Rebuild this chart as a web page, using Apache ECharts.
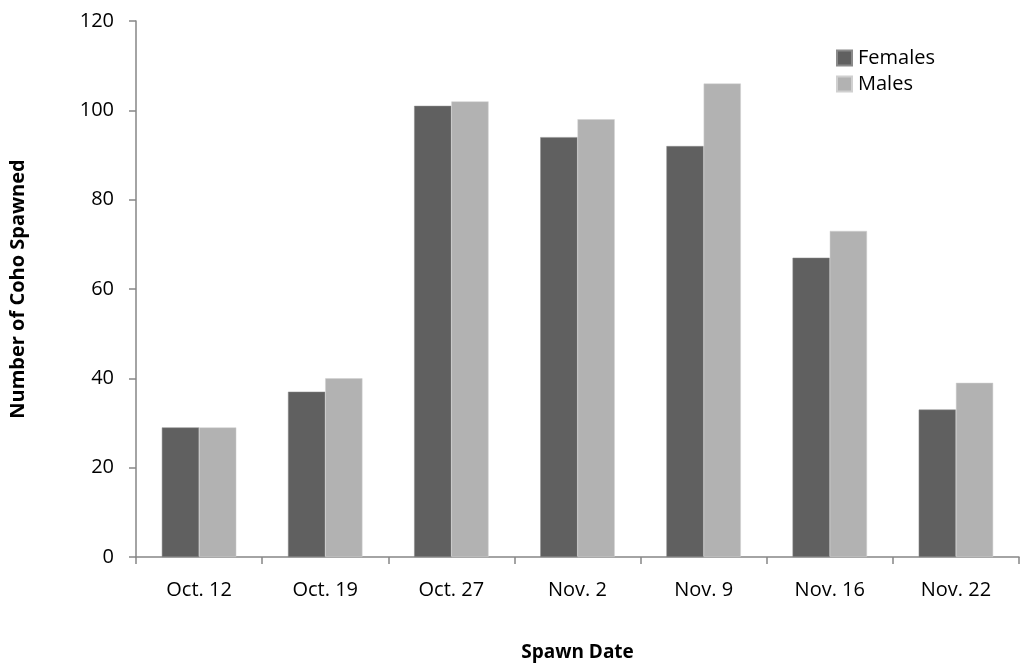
<!DOCTYPE html>
<html>
<head>
<meta charset="utf-8">
<script src="https://cdn.jsdelivr.net/npm/echarts@6/dist/echarts.min.js"></script>
<style>
  html, body { margin: 0; padding: 0; background: #ffffff; }
  #chart { width: 1035px; height: 667px; }
</style>
</head>
<body>
<div id="chart"></div>
<script>
// Coho spawned per spawn date, split by sex
const spawnDates = ['Oct. 12', 'Oct. 19', 'Oct. 27', 'Nov. 2', 'Nov. 9', 'Nov. 16', 'Nov. 22'];
const females = [29, 37, 101, 94, 92, 67, 33];
const males = [29, 40, 102, 98, 106, 73, 39];

const FONT = 'Open Sans';
const chart = echarts.init(document.getElementById('chart'));

chart.setOption({
  animation: false,
  backgroundColor: '#ffffff',
  textStyle: { fontFamily: FONT },
  grid: { left: 135, right: 16, top: 21, bottom: 108, containLabel: false },
  legend: {
    orient: 'vertical',
    left: 831,
    top: 43,
    itemWidth: 15,
    itemHeight: 15,
    itemGap: 6,
    icon: 'rect',
    textStyle: { fontFamily: FONT, fontSize: 20, color: '#000000', padding: [0, 0, 0, 1] },
    data: ['Females', 'Males']
  },
  xAxis: {
    type: 'category',
    data: spawnDates,
    name: 'Spawn Date',
    nameLocation: 'middle',
    nameGap: 86,
    nameTextStyle: { fontFamily: FONT, fontSize: 19, fontWeight: 'bold', color: '#000000' },
    axisLine: { lineStyle: { color: '#868686', width: 1.5 } },
    axisTick: { show: true, length: 7, lineStyle: { color: '#868686', width: 1.5 } },
    axisLabel: { fontFamily: FONT, fontSize: 20, color: '#000000', margin: 23 }
  },
  yAxis: {
    type: 'value',
    min: 0,
    max: 120,
    interval: 20,
    name: 'Number of Coho Spawned',
    nameLocation: 'middle',
    nameGap: 108,
    nameTextStyle: { fontFamily: FONT, fontSize: 20, fontWeight: 'bold', color: '#000000' },
    axisLine: { show: true, lineStyle: { color: '#868686', width: 1.5 } },
    axisTick: { show: true, length: 7, lineStyle: { color: '#868686', width: 1.5 } },
    axisLabel: { fontFamily: FONT, fontSize: 20, color: '#000000', margin: 22 },
    splitLine: { show: false }
  },
  series: [
    {
      name: 'Females',
      type: 'bar',
      data: females,
      barGap: '0%',
      barCategoryGap: '41%',
      itemStyle: { color: '#606060', borderColor: '#8a8a8a', borderWidth: 0.5 }
    },
    {
      name: 'Males',
      type: 'bar',
      data: males,
      barGap: '0%',
      barCategoryGap: '41%',
      itemStyle: { color: '#b2b2b2', borderColor: '#d0d0d0', borderWidth: 0.5 }
    }
  ]
});
</script>
</body>
</html>
